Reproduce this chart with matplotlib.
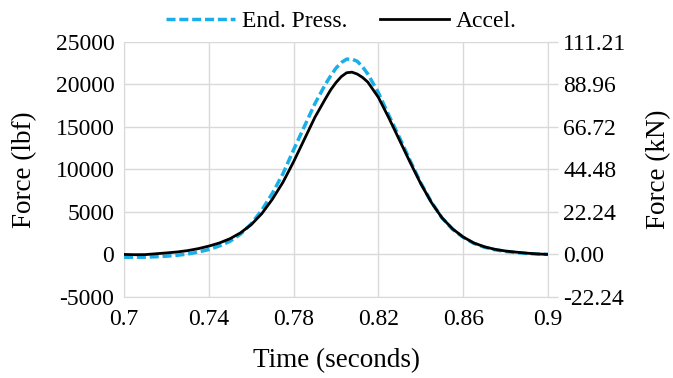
#!/usr/bin/env python3

import matplotlib
matplotlib.use("Agg")
import matplotlib.pyplot as plt

# time in seconds, force in lbf
time_s = [0.700, 0.705, 0.710, 0.715, 0.720, 0.725, 0.730, 0.735, 0.740, 0.745,
          0.750, 0.755, 0.760, 0.765, 0.770, 0.775, 0.780, 0.785, 0.790, 0.795,
          0.7975, 0.800, 0.8025, 0.805, 0.8075, 0.810, 0.8125, 0.815, 0.820, 0.825,
          0.830, 0.835, 0.840, 0.845, 0.850, 0.855, 0.860, 0.865, 0.870, 0.875,
          0.880, 0.885, 0.890, 0.895, 0.900]
end_press = [-330, -330, -320, -270, -200, -100, 50, 280, 580, 1000,
             1550, 2400, 3600, 5200, 7200, 9500, 12300, 15000, 17700, 20000,
             21000, 21900, 22550, 22950, 22950, 22700, 22050, 21200, 19000, 16300,
             13700, 11000, 8400, 6150, 4300, 2950, 2000, 1300, 850, 550,
             350, 220, 120, 50, 20]
accel = [0, -30, -20, 80, 180, 290, 450, 680, 980, 1350,
         1850, 2550, 3500, 4800, 6500, 8500, 10900, 13500, 16100, 18300,
         19350, 20200, 20900, 21350, 21420, 21200, 20800, 20250, 18450, 16000,
         13400, 10800, 8300, 6100, 4300, 3000, 2050, 1350, 900, 600,
         400, 270, 150, 60, 0]

x_ticks = [0.7, 0.74, 0.78, 0.82, 0.86, 0.9]
x_tick_labels = ["0.7", "0.74", "0.78", "0.82", "0.86", "0.9"]
lbf_ticks = [-5000, 0, 5000, 10000, 15000, 20000, 25000]
LBF_TO_KN = 0.00444822

plt.rcParams['font.family'] = ['Liberation Serif', 'DejaVu Serif']
plt.rcParams['axes.unicode_minus'] = False
grid_col = '#D9D9D9'

fig = plt.figure(figsize=(6.73, 3.78), dpi=100)
ax = fig.add_axes([0.1843, 0.2143, 0.6300, 0.6754])

ax.plot(time_s, end_press, color='#1AAFE8', lw=2.5, ls=(0, (2.6, 1.1)),
        label='End. Press.', zorder=3)
ax.plot(time_s, accel, color='black', lw=2.0, label='Accel.', zorder=4)

ax.set_xlim(0.7, 0.9)
ax.set_ylim(-5000, 25000)
ax.set_xticks(x_ticks)
ax.set_xticklabels(x_tick_labels)
ax.set_yticks(lbf_ticks)
ax.grid(True, color=grid_col, lw=1.0)
ax.set_axisbelow(True)
ax.tick_params(axis='both', length=0, labelsize=17, colors='black', pad=9)
ax.tick_params(axis='y', pad=7)
for side in ['top', 'right']:
    ax.spines[side].set_visible(False)
for side in ['left', 'bottom']:
    ax.spines[side].set_color(grid_col)
ax.set_xlabel('Time (seconds)', fontsize=19.5, labelpad=13)
ax.set_ylabel('Force (lbf)', fontsize=19.5, labelpad=13)

# secondary axis in kN
ax2 = ax.twinx()
ax2.set_ylim(ax.get_ylim())
ax2.set_yticks(lbf_ticks)
ax2.set_yticklabels(['{:.2f}'.format(v * LBF_TO_KN) for v in lbf_ticks])
ax2.tick_params(axis='y', length=7, width=1, color=grid_col, labelsize=17, pad=4)
for side in ['top', 'left', 'bottom']:
    ax2.spines[side].set_visible(False)
ax2.spines['right'].set_color(grid_col)
ax2.set_ylabel('Force (kN)', fontsize=19.5, labelpad=14)

ax.legend(loc='lower center', bbox_to_anchor=(0.513, 0.99), ncol=2, frameon=False,
          fontsize=17, handlelength=2.9, handletextpad=0.3, columnspacing=1.4,
          borderpad=0.0)

fig.savefig('out.png', dpi=100)
